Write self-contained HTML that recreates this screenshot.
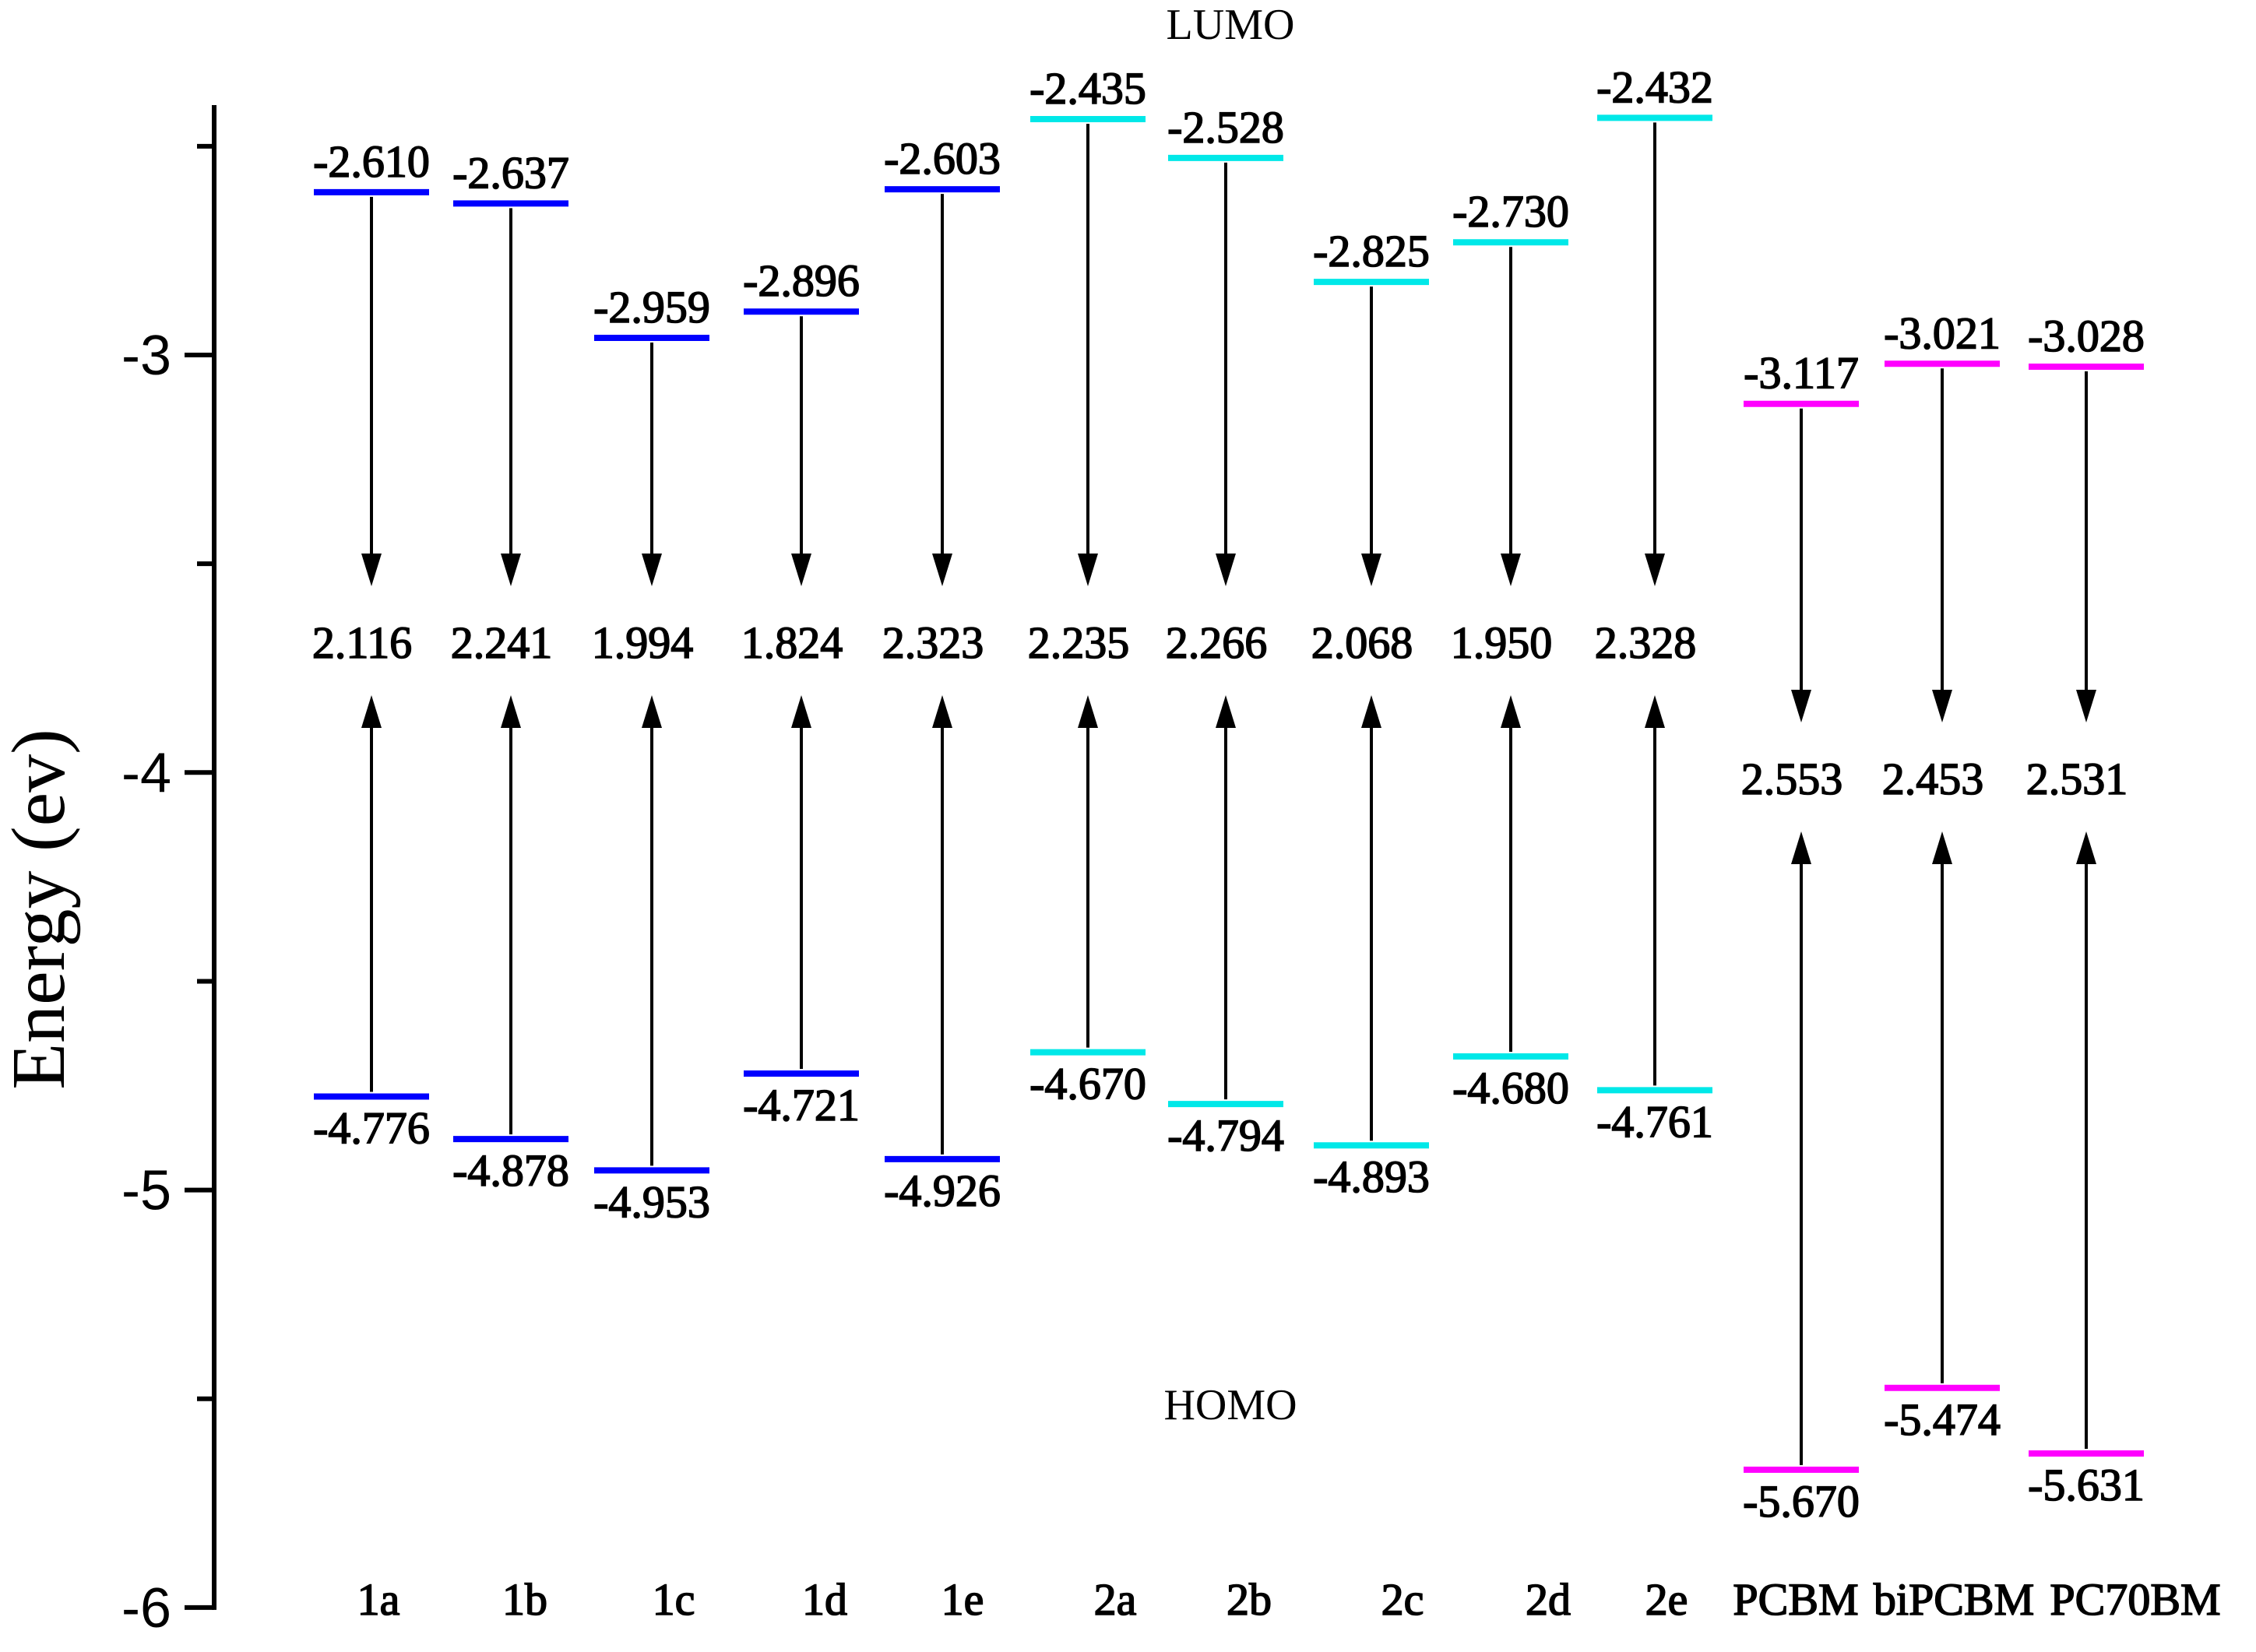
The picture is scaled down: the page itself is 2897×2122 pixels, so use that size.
<!DOCTYPE html>
<html><head><meta charset="utf-8"><style>
html,body{margin:0;padding:0;background:#fff;}
svg{display:block;}
</style></head><body>
<svg id="chart" width="2897" height="2122" viewBox="0 0 2897 2122" xmlns="http://www.w3.org/2000/svg">
<text x="1580" y="50" font-family="Liberation Serif, serif" font-size="56" text-anchor="middle">LUMO</text>
<text x="1580" y="1823" font-family="Liberation Serif, serif" font-size="56" text-anchor="middle">HOMO</text>
<text transform="translate(82,1168) rotate(-90)" font-family="Liberation Serif, serif" font-size="98" text-anchor="middle">Energy (ev)</text>
<g id="axis"></g>
<g id="marks"></g>
</svg>
<script>
const categories = ["1a","1b","1c","1d","1e","2a","2b","2c","2d","2e","PCBM","biPCBM","PC70BM"];
const lumo = [-2.610,-2.637,-2.959,-2.896,-2.603,-2.435,-2.528,-2.825,-2.730,-2.432,-3.117,-3.021,-3.028];
const homo = [-4.776,-4.878,-4.953,-4.721,-4.926,-4.670,-4.794,-4.893,-4.680,-4.761,-5.670,-5.474,-5.631];
const gaps = ["2.116","2.241","1.994","1.824","2.323","2.235","2.266","2.068","1.950","2.328","2.553","2.453","2.531"];
const groups = ["1","1","1","1","1","2","2","2","2","2","F","F","F"];
const yTicks = [-3,-4,-5,-6];
const yMinor = [-2.5,-3.5,-4.5,-5.5];

const NS="http://www.w3.org/2000/svg";
const colorFor={"1":"#0000ff","2":"#00e8e8","F":"#ff00ff"};
const xCenters=[477,656,837,1029,1210,1397,1574,1761,1940,2125,2313,2494,2679];
const labelX=[486,674,865,1059,1236,1432,1604,1801,1988,2140,2306,2509,2742];
function y(v){return 456+(-3-v)*536.3;}
function mk(tag,attrs,parent){const e=document.createElementNS(NS,tag);for(const k in attrs)e.setAttribute(k,attrs[k]);parent.appendChild(e);return e;}
const axis=document.getElementById('axis');
const marks=document.getElementById('marks');
const AX=275;
let l=mk('line',{x1:AX,y1:135,x2:AX,y2:y(-6)+3,stroke:'#000','stroke-width':6},axis);


yTicks.forEach(t=>{
  const tk=mk('line',{x1:AX-38,y1:y(t),x2:AX,y2:y(t),stroke:'#000','stroke-width':6},axis);
  
  
  const tl=mk('text',{x:AX-55,y:y(t)+25,'font-family':'Liberation Sans, sans-serif','font-size':72,'text-anchor':'end'},axis);
  tl.textContent=String(t);
  
  
});
yMinor.forEach(t=>{
  const tk=mk('line',{x1:AX-22,y1:y(t),x2:AX,y2:y(t),stroke:'#000','stroke-width':6},axis);
  
  
});
function arrow(x,y1,y2,parent){
  const dir=y2>y1?1:-1;
  const ln=mk('line',{x1:x,y1:y1,x2:x,y2:y2-dir*30,stroke:'#000','stroke-width':4},parent);
  
  
  const hd=mk('polygon',{points:`${x-13},${y2-dir*42} ${x+13},${y2-dir*42} ${x},${y2}`,fill:'#000'},parent);
  
  
}
const font='Liberation Serif, serif';
const tStyle={'font-family':font,'font-size':58,'text-anchor':'middle',stroke:'#000','stroke-width':1.6};
function txt(x,yy,s,name){
  const t=mk('text',Object.assign({x:x,y:yy},tStyle),marks);
  t.textContent=s;
  
  
}
categories.forEach((c,i)=>{
  const x=xCenters[i], col=colorFor[groups[i]];
  const yl=y(lumo[i]), yh=y(homo[i]);
  const isF=groups[i]==='F';
  const gy=isF?1000:825;
  arrow(x,yl+6,gy-72,marks);
  arrow(x,yh-6,gy+68,marks);
  const lb=mk('line',{x1:x-74,y1:yl,x2:x+74,y2:yl,stroke:col,'stroke-width':8},marks);
  
  
  const hb=mk('line',{x1:x-74,y1:yh,x2:x+74,y2:yh,stroke:col,'stroke-width':8},marks);
  
  
  txt(x,yl-20,lumo[i].toFixed(3),'lumo-value-label');
  txt(x,yh+60,homo[i].toFixed(3),'homo-value-label');
  txt(x-12,gy+20,gaps[i],'gap-value-label');
  txt(labelX[i],2074,c,'x-category-label');
});
</script>
</body></html>
